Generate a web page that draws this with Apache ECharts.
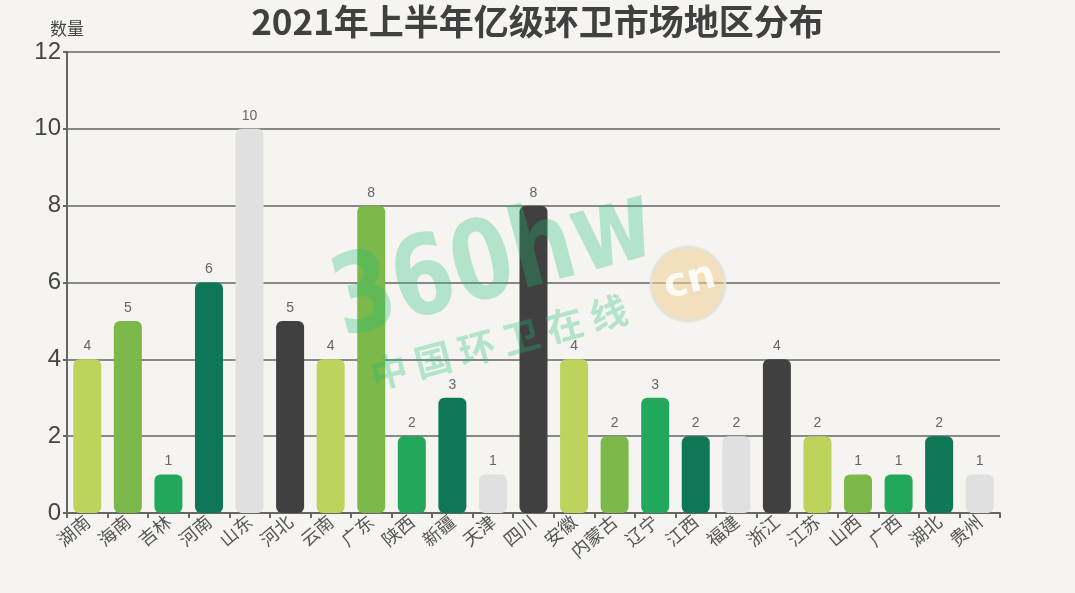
<!DOCTYPE html>
<html style="height: 100%">
<head>
<meta charset="utf-8">
<title>2021年上半年亿级环卫市场地区分布</title>
<script src="https://cdn.jsdelivr.net/npm/echarts@6/dist/echarts.min.js"></script>
</head>
<body style="height: 100%; margin: 0; background: #f5f4f0">
<div id="container" style="width: 1075px; height: 593px"></div>
<script type="text/javascript">
    // data
    let regions = ['湖南', '海南', '吉林', '河南', '山东', '河北', '云南', '广东', '陕西', '新疆', '天津', '四川',
        '安徽', '内蒙古', '辽宁', '江西', '福建', '浙江', '江苏', '山西', '广西', '湖北', '贵州'];
    let counts = [4, 5, 1, 6, 10, 5, 4, 8, 2, 3, 1, 8, 4, 2, 3, 2, 2, 4, 2, 1, 1, 2, 1];
    let palette = ['#bed35c', '#7cb84a', '#22a85a', '#0e7758', '#e0e0e0', '#404040'];
    let yTicks = [0, 2, 4, 6, 8, 10, 12];

    let dom = document.getElementById('container');
    let chart = echarts.init(dom);

    // each bar takes the next colour of the palette
    let barData = counts.map(function (v, i) {
        return {value: v, itemStyle: {color: palette[i % palette.length]}};
    });

    let wmColor = 'rgba(30,190,120,0.3)';

    chart.setOption({
        backgroundColor: '#f5f4f0',
        title: {
            text: '2021年上半年亿级环卫市场地区分布',
            left: 'center',
            top: -1,
            textStyle: {fontSize: 35, fontWeight: 'bold', color: '#404040', fontFamily: 'Noto Sans CJK SC'}
        },
        grid: {left: 67, right: 75, top: 52, bottom: 80},
        xAxis: {
            type: 'category',
            data: regions,
            axisLine: {lineStyle: {color: '#666', width: 2}},
            axisTick: {show: true, length: 5, lineStyle: {color: '#666', width: 2}},
            axisLabel: {rotate: 40, fontSize: 18, color: '#555', margin: 6, fontFamily: 'Noto Sans CJK SC'}
        },
        yAxis: {
            type: 'value',
            name: '数量',
            nameGap: 15,
            nameTextStyle: {fontSize: 17, color: '#444', align: 'center', fontFamily: 'Noto Sans CJK SC'},
            min: yTicks[0],
            max: yTicks[yTicks.length - 1],
            interval: 2,
            axisLine: {show: true, lineStyle: {color: '#666', width: 2}},
            axisTick: {show: true, length: 4, lineStyle: {color: '#666', width: 2}},
            axisLabel: {fontSize: 24, color: '#444', margin: 6},
            splitLine: {lineStyle: {color: '#888', width: 2}}
        },
        series: [{
            type: 'bar',
            data: barData,
            barWidth: 28,
            itemStyle: {borderRadius: [6, 6, 6, 6]},
            label: {show: true, position: 'top', fontSize: 14, color: '#666', distance: 6}
        }],
        // watermark
        graphic: [
            {
                type: 'text', x: 350, y: 362, rotation: 0.26, scaleX: 0.8, z: 100, silent: true,
                style: {
                    text: '360hw', font: 'bold 110px "DejaVu Sans", sans-serif',
                    fill: wmColor, verticalAlign: 'bottom', align: 'left'
                }
            },
            {
                type: 'text', x: 376, y: 394, rotation: 0.26, z: 100, silent: true,
                style: {
                    text: '中 国 环 卫 在 线', font: 'bold 37px "Noto Sans CJK SC"',
                    fill: wmColor, verticalAlign: 'bottom', align: 'left'
                }
            },
            {
                type: 'circle', shape: {cx: 688, cy: 284, r: 37}, z: 100, silent: true,
                style: {fill: 'rgba(240,205,150,0.55)', stroke: 'rgba(225,225,215,0.8)', lineWidth: 3}
            },
            {
                type: 'text', x: 690, y: 282, rotation: 0.25, z: 101, silent: true,
                style: {
                    text: 'cn', font: 'bold 40px "DejaVu Sans", sans-serif',
                    fill: 'rgba(255,255,255,0.85)', align: 'center', verticalAlign: 'middle'
                }
            }
        ]
    });
</script>
</body>
</html>
